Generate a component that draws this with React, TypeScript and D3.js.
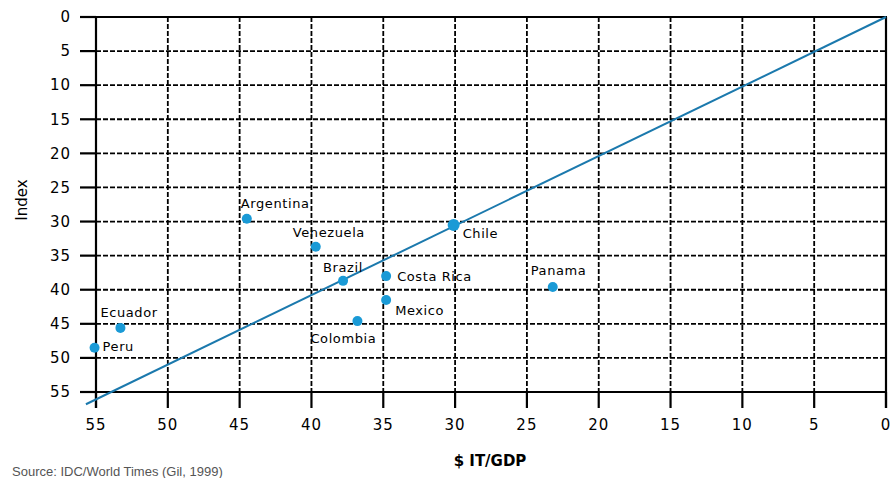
import React from "react";
import * as d3 from "d3";

const countries = ["Argentina", "Venezuela", "Brazil", "Costa Rica", "Mexico", "Colombia", "Chile", "Panama", "Ecuador", "Peru"];
const itGdp = [44.5, 39.7, 37.8, 34.8, 34.8, 36.8, 30.1, 23.2, 53.3, 55.1];
const indexValues = [29.6, 33.7, 38.7, 38.0, 41.5, 44.6, 30.5, 39.6, 45.6, 48.5];
const xTicks = [55, 50, 45, 40, 35, 30, 25, 20, 15, 10, 5, 0];
const yTicks = [0, 5, 10, 15, 20, 25, 30, 35, 40, 45, 50, 55];
const trendX = [0, 55.7];
const trendY = [0, 56.8];

// label placement (dx, dy) relative to each point
const labelPlacement: [number, number][] = [
  [-6, -15],
  [-23, -14],
  [-20, -13],
  [11, 0],
  [9, 10],
  [-47, 17],
  [9, 8],
  [-22, -17],
  [-20, -15],
  [8, -1],
];

const W = 896;
const H = 478;
const x = d3.scaleLinear().domain([55, 0]).range([96, 886]);
const y = d3.scaleLinear().domain([0, 55]).range([17, 392]);

export default function App() {
  const line = d3.line<number>().x((_, i) => x(trendX[i])).y((_, i) => y(trendY[i]));
  const tickFont = { fontFamily: "DejaVu Sans, sans-serif", fontSize: 15, letterSpacing: 1 } as const;
  return (
    <svg width={W} height={H} style={{ position: "absolute", left: 0, top: 0, background: "#fff" }}>
      {/* grid */}
      {xTicks.filter((t) => t !== 55 && t !== 0).map((t) => (
        <line key={"gx" + t} x1={x(t)} x2={x(t)} y1={y(0)} y2={y(55)} stroke="#000" strokeWidth={1.8} strokeDasharray="5,2" />
      ))}
      {yTicks.filter((t) => t !== 0 && t !== 55).map((t) => (
        <line key={"gy" + t} x1={x(55)} x2={x(0)} y1={y(t)} y2={y(t)} stroke="#000" strokeWidth={1.8} strokeDasharray="5,2" />
      ))}
      {/* frame */}
      <line x1={80} x2={x(0) + 1} y1={y(0)} y2={y(0)} stroke="#000" strokeWidth={2.2} />
      <line x1={80} x2={x(0) + 1} y1={y(55)} y2={y(55)} stroke="#000" strokeWidth={2.2} />
      <line x1={x(55)} x2={x(55)} y1={y(0)} y2={y(55) + 16} stroke="#000" strokeWidth={2.2} />
      <line x1={x(0)} x2={x(0)} y1={y(0)} y2={y(55) + 16} stroke="#000" strokeWidth={2.2} />
      {/* y ticks */}
      {yTicks.map((t) => (
        <g key={"yt" + t}>
          <line x1={80} x2={x(55)} y1={y(t)} y2={y(t)} stroke="#000" strokeWidth={2.2} />
          <text x={71} y={y(t)} dy="0.35em" textAnchor="end" {...tickFont}>{t}</text>
        </g>
      ))}
      {/* x ticks */}
      {xTicks.map((t) => (
        <g key={"xt" + t}>
          <line x1={x(t)} x2={x(t)} y1={y(55)} y2={y(55) + 16} stroke="#000" strokeWidth={2.2} />
          <text x={x(t)} y={430} textAnchor="middle" {...tickFont}>{t}</text>
        </g>
      ))}
      {/* trend line */}
      <path d={line(trendX) || ""} fill="none" stroke="#1b79ad" strokeWidth={2} />
      {/* points */}
      {countries.map((c, i) => (
        <g key={c}>
          <circle cx={x(itGdp[i])} cy={y(indexValues[i])} r={c === "Chile" ? 6 : 5} fill="#1a9ad6" />
          <text
            x={x(itGdp[i]) + labelPlacement[i][0]}
            y={y(indexValues[i]) + labelPlacement[i][1]}
            dy="0.35em"
            fontFamily="DejaVu Sans, sans-serif"
            fontSize={13}
            letterSpacing={0.6}
            fill="#000"
          >
            {c}
          </text>
        </g>
      ))}
      {/* axis titles */}
      <text x={490} y={466} textAnchor="middle" fontFamily="DejaVu Sans, sans-serif" fontSize={15} fontWeight="bold">$ IT/GDP</text>
      <text transform="translate(27,200) rotate(-90)" textAnchor="middle" fontFamily="DejaVu Sans, sans-serif" fontSize={15}>Index</text>
      <text x={12} y={476} fontFamily="Liberation Sans, sans-serif" fontSize={13} fill="#555">Source: IDC/World Times (Gil, 1999)</text>
    </svg>
  );
}
